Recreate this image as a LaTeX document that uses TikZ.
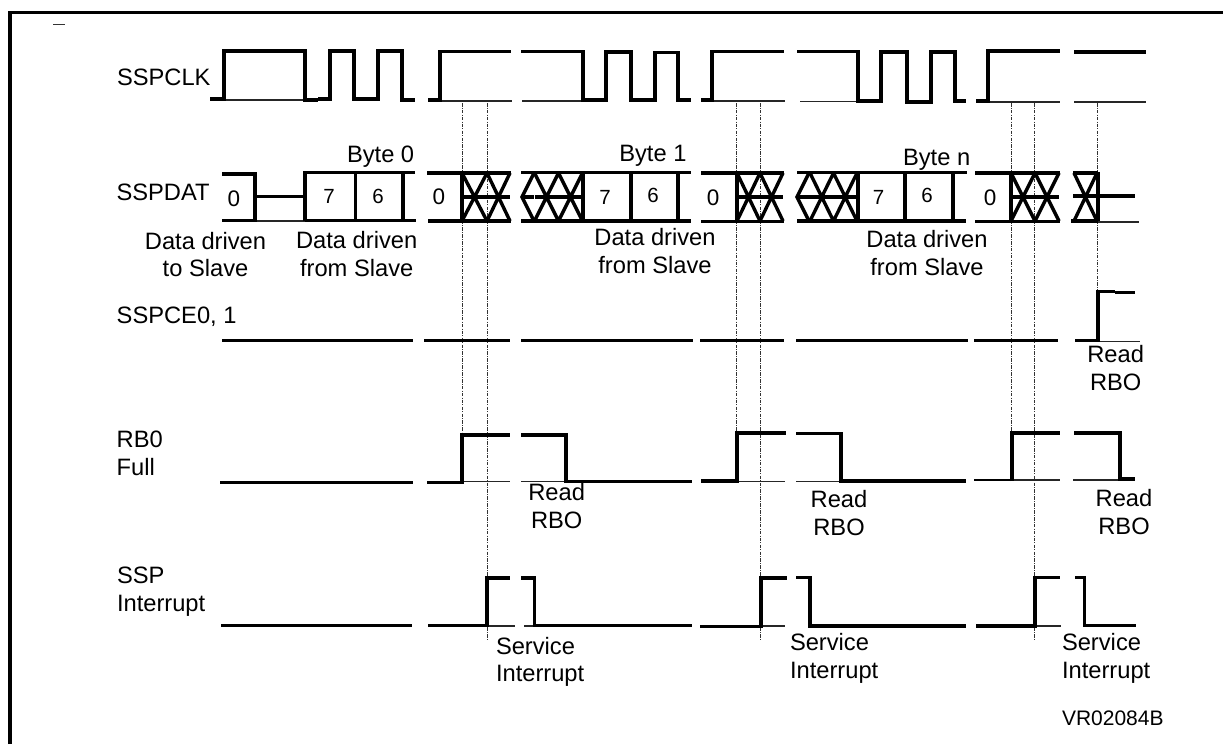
\documentclass[tikz,border=0pt]{standalone}
\usepackage{fontspec}
\setmainfont{Liberation Sans}
\tikzset{
  wave/.style={line width=3.4pt,line cap=butt,line join=miter,black},
  mid/.style={line width=2.6pt,black},
  base/.style={line width=1.2pt,black!85},
  guide/.style={line width=0.8pt,black!80,dash pattern=on 3.5pt off 1.2pt on 1pt off 1.2pt},
  frame/.style={line width=3.2pt,black},
  xx/.style={line width=3.4pt,line join=miter,black},
  lbl/.style={inner sep=0pt,outer sep=0pt,anchor=base west,font=\fontsize{23.7}{27.4}\selectfont},
  two/.style={inner sep=0pt,outer sep=0pt,align=center,font=\fontsize{23.7}{27.4}\selectfont},
  twol/.style={inner sep=0pt,outer sep=0pt,align=left,font=\fontsize{23.7}{27.4}\selectfont},
  bit/.style={inner sep=0pt,outer sep=0pt,anchor=base,font=\fontsize{20.5}{20.5}\selectfont},
  bitz/.style={inner sep=0pt,outer sep=0pt,anchor=base,font=\fontsize{22.5}{22.5}\selectfont},
}
% X-pattern helper: #1 left x, #2 middle x, #3 right x, #4 top y, #5 bottom y
\newcommand{\xpair}[5]{%
  \draw[xx] (#1,#4) -- (#2,#5) (#2,#4) -- (#1,#5) (#2,#4) -- (#3,#5) (#3,#4) -- (#2,#5);
  \draw[xx] (#1,{(#4+#5)/2}) -- (#3,{(#4+#5)/2});
}
\begin{document}
\begin{tikzpicture}[x=1pt,y=-1pt]
\useasboundingbox (0,0) rectangle (1223,744);
% frame
\draw[frame] (10,744) -- (10,12.5) -- (1223,12.5);
\draw[line width=0.9pt,black!80] (53,24) -- (65,24);

% guides
\foreach \x/\b in {462.0/432,487.7/640,736.7/432,760/640,1011/432,1034.3/640,1097/290}
  \draw[guide] (\x,103) -- (\x,\b);

% SSPCLK
\draw[base] (224,100) -- (305,100) (440,101) -- (512,101) (522,101) -- (583,101)
  (713,101) -- (785,101) (800,101.5) -- (858,101.5) (988,102) -- (1060,102) (1074,102) -- (1146,102);
\draw[wave] (210,99) -- (224,99) -- (224,51) -- (305,51) -- (305,100) -- (318,100);
\draw[wave] (318,99) -- (330,99) -- (330,51) -- (354,51) -- (354,99) -- (378,99) -- (378,51) -- (402,51) -- (402,100) -- (415,100);
\draw[wave] (428,100) -- (440,100) -- (440,51.5) -- (511,51.5);
\draw[wave] (521,51.5) -- (583,51.5) -- (583,100) -- (606,100) -- (606,52) -- (631,52) -- (631,100) -- (655,100) -- (655,52.5) -- (678,52.5) -- (678,100) -- (691,100);
\draw[wave] (701,100) -- (712,100) -- (712,51.5) -- (784,51.5);
\draw[wave] (797,51.5) -- (858,51.5) -- (858,101) -- (881,101) -- (881,52) -- (907,52) -- (907,102) -- (931,102) -- (931,52) -- (955,52) -- (955,101) -- (966,101);
\draw[wave] (976,101) -- (988,101) -- (988,51) -- (1060,51);
\draw[wave] (1074,52) -- (1146,52);

% SSPDAT
\draw[base] (255,221) -- (305,221);
\draw[wave] (222,174) -- (255,174) -- (255,220.5) -- (222,220.5);
\draw[wave] (255,196.5) -- (305,196.5);
\draw[wave] (305,220.5) -- (305,172.5) -- (415,172.5);
\draw[wave] (305,220.5) -- (416,220.5) (355.5,172.5) -- (355.5,220.5) (403,172.5) -- (403,220.5);

\draw[wave] (427,173) -- (511,173) (428,221) -- (511,221) (462,173) -- (462,221);
\xpair{462}{487}{510}{173}{221}

\draw[wave] (521,172.5) -- (691,172.5) (521,221) -- (691,221);
\draw[xx] (534,173) -- (522,197) -- (534,221);
\xpair{534.5}{558.5}{582.5}{173}{221}
\draw[wave] (522,197) -- (534,197);
\draw[wave] (583,172.5) -- (583,221) (631,172.5) -- (631,221) (678,172.5) -- (678,221);

\draw[wave] (701,173) -- (784,173) (701,221.5) -- (784,221.5) (737,173) -- (737,221.5);
\xpair{737}{760}{783}{173}{221}

\draw[wave] (797,172.5) -- (967,172.5) (797,221) -- (966,221);
\draw[xx] (809,173) -- (797,197) -- (809,221);
\xpair{810}{833.5}{857}{173}{221}
\draw[wave] (797,197) -- (810,197);
\draw[wave] (858,172.5) -- (858,221) (905,172.5) -- (905,221) (953,172.5) -- (953,221);

\draw[wave] (975,173) -- (1060,173) (975,221.5) -- (1060,221.5) (1011,173) -- (1011,221.5);
\xpair{1011}{1035}{1059}{173}{221}

\draw[wave] (1073,173) -- (1098,173) (1071,221) -- (1098,221) (1098,171.5) -- (1098,222);
\draw[xx] (1074,173) -- (1097,221) (1097,173) -- (1074,221);
\draw[wave] (1073,196) -- (1135,196);
\draw[base] (1098,222) -- (1139,222);

% SSPCE0, 1
\draw[base] (1098,341.5) -- (1140,341.5);
\draw[wave] (222,340.5) -- (413,340.5) (424,340.5) -- (510,340.5) (521,340.5) -- (693,340.5)
  (700,340.5) -- (784,340.5) (796,340.5) -- (968,340.5) (974,340.5) -- (1058,340.5);
\draw[wave] (1075,340.5) -- (1098,340.5) -- (1098,291.5) -- (1115,291.5);
\draw[wave] (1115,292.5) -- (1135,292.5);

% RB0 Full
\draw[base] (462,481.5) -- (510,481.5) (521,481.5) -- (566,481.5) (737,481.5) -- (785,481.5)
  (796,481.5) -- (841,481.5) (1012,480) -- (1060,480) (1073,480) -- (1120,480);
\draw[mid] (220,482.5) -- (413,482.5);
\draw[wave] (427,482.5) -- (462,482.5) -- (462,435) -- (510,435);
\draw[wave] (521,435) -- (566,435) -- (566,481.5) -- (692,481.5);
\draw[wave] (701,481) -- (737,481) -- (737,433) -- (786,433);
\draw[wave] (796,433.5) -- (841,433.5) -- (841,481) -- (966,481);
\draw[mid] (974,480) -- (1012,480);
\draw[wave] (1012,481) -- (1012,433) -- (1060,433);
\draw[wave] (1074,433) -- (1120,433) -- (1120,479) -- (1135,479);

% SSP Interrupt
\draw[base] (487,626) -- (515,626) (524,626) -- (534,626) (761,626) -- (785,626) (1035,626) -- (1061,626);
\draw[wave] (221,625.5) -- (412,625.5);
\draw[wave] (428,625.5) -- (487,625.5) -- (487,578) -- (510,578);
\draw[wave] (521,578) -- (534.5,578) -- (534.5,625.5) -- (692,625.5);
\draw[wave] (700,626.5) -- (761,626.5) -- (761,578) -- (787,578);
\draw[wave] (796,577.5) -- (810,577.5) -- (810,626) -- (966,626);
\draw[wave] (976,626) -- (1035,626) -- (1035,577.5) -- (1060,577.5);
\draw[wave] (1075,577.5) -- (1084.5,577.5) -- (1084.5,625.5) -- (1136,625.5);

% Labels
\node[lbl] (clk) at (117,85) {SSPCLK};
\node[lbl] (dat) at (116.5,200) {SSPDAT};
\node[lbl] (ce) at (116.7,323) {SSPCE0, 1};
\node[twol,anchor=base west] (rb) at (116.7,475) {RB0\\Full};
\node[twol,anchor=base west] (ssp) at (117,611) {SSP\\Interrupt};

\node[lbl] (b0) at (347,162) {Byte 0};
\node[lbl] (b1) at (619.3,161) {Byte 1};
\node[lbl] (bn) at (903,165) {Byte n};

\node[two,anchor=base] (d1) at (205.5,276.5) {Data driven\\to Slave};
\node[two,anchor=base] (d2) at (356.7,276) {Data driven\\from Slave};
\node[two,anchor=base] (d3) at (655,273) {Data driven\\from Slave};
\node[two,anchor=base] (d4) at (927,275) {Data driven\\from Slave};

\node[bitz] (z1) at (234,206.5) {0};
\node[bit] (s1) at (329,203.5) {7};
\node[bit] (x1) at (378,203) {6};
\node[bitz] (z2) at (439,204.5) {0};
\node[bit] (s2) at (605,204) {7};
\node[bit] (x2) at (653,202) {6};
\node[bitz] (z3) at (713,205) {0};
\node[bit] (s3) at (878.5,204.5) {7};
\node[bit] (x3) at (927,202) {6};
\node[bitz] (z4) at (990,205) {0};

\node[two,anchor=base] (r1) at (1115.7,390) {Read\\RBO};
\node[two,anchor=base] (r2) at (556.7,528) {Read\\RBO};
\node[two,anchor=base] (r3) at (839,535) {Read\\RBO};
\node[two,anchor=base] (r4) at (1124,534) {Read\\RBO};

\node[twol,anchor=base west] (s1t) at (496,681.7) {Service\\Interrupt};
\node[twol,anchor=base west] (s2t) at (790,678) {Service\\Interrupt};
\node[twol,anchor=base west] (s3t) at (1062,678) {Service\\Interrupt};
\node[lbl,font=\fontsize{21}{21}\selectfont] (vr) at (1062,725) {VR02084B};
\end{tikzpicture}
\end{document}
